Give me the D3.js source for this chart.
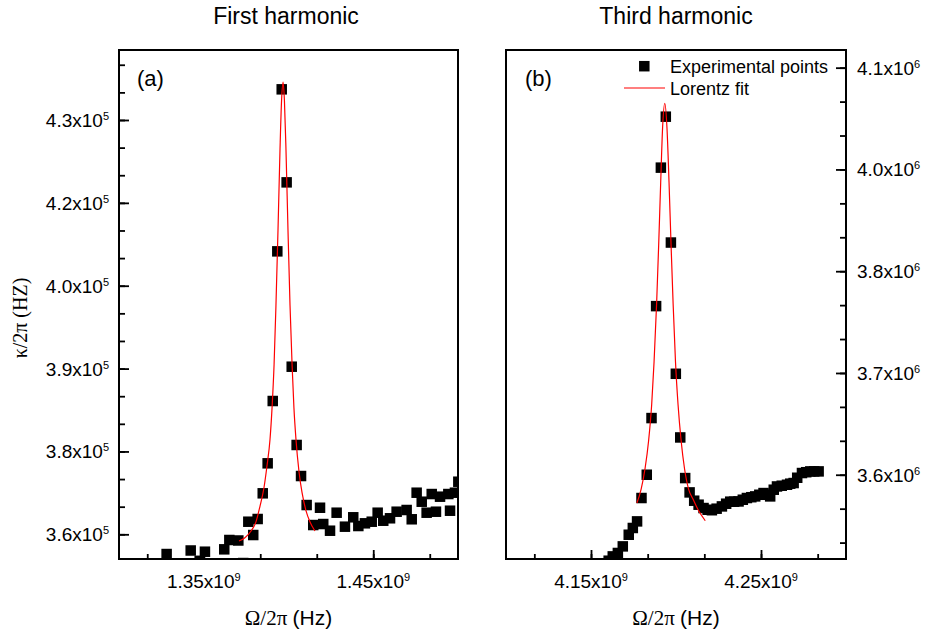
<!DOCTYPE html>
<html>
<head>
<meta charset="utf-8">
<script src="https://cdnjs.cloudflare.com/ajax/libs/d3/7.8.5/d3.min.js"></script>
<style>
  body { margin: 0; background: #fff; }
  text { font-family: "Liberation Sans", Arial, sans-serif; fill: #000; }
  .serif { font-family: "Liberation Serif", "Times New Roman", serif; }
</style>
</head>
<body>
<svg id="chart" width="925" height="633"></svg>
<script>
// (a) first harmonic: frequency in GHz, kappa/2pi in units of 1e5 Hz
var freqA = [1.3281, 1.3423, 1.3476, 1.3507, 1.3565, 1.3621, 1.3651, 1.3704, 1.3733, 1.3763,
             1.3792, 1.3818, 1.3848, 1.3877, 1.3907, 1.3934, 1.3960, 1.3989, 1.4019, 1.4048,
             1.4074, 1.4107, 1.4146, 1.4186, 1.4205, 1.4245, 1.4284, 1.4333, 1.4382, 1.4412,
             1.4451, 1.4491, 1.4526, 1.4559, 1.4599, 1.4638, 1.4697, 1.4727, 1.4756, 1.4786,
             1.4815, 1.4845, 1.4870, 1.4894, 1.4943, 1.4953, 1.4982, 1.5002];
var kappaA = [3.5643, 3.5707, 3.5520, 3.5685, 3.5470, 3.5728, 3.5897, 3.5888, 3.5480, 3.6228,
              3.5987, 3.6277, 3.6742, 3.7285, 3.8413, 4.1122, 4.4055, 4.2371, 3.9034, 3.7617,
              3.7055, 3.6530, 3.6168, 3.6481, 3.6186, 3.6065, 3.6391, 3.6138, 3.6308, 3.6150,
              3.6199, 3.6228, 3.6391, 3.6246, 3.6290, 3.6409, 3.6440, 3.6272, 3.6753, 3.6590,
              3.6391, 3.6729, 3.6409, 3.6681, 3.6729, 3.6427, 3.6753, 3.6952];
// Lorentz fit in (a)
var fitFreqA = [1.3708, 1.3743, 1.3779, 1.3808, 1.3832, 1.3855, 1.3873, 1.3891, 1.3903, 1.3915,
                1.3926, 1.3938, 1.3950, 1.3959, 1.3968, 1.3976, 1.3985, 1.3997, 1.4009, 1.4021,
                1.4032, 1.4044, 1.4062, 1.4080, 1.4103, 1.4127, 1.4156];
var fitKappaA = [3.5879, 3.5938, 3.6060, 3.6224, 3.6512, 3.6838, 3.7236, 3.7721, 3.8293, 3.9079,
                 4.0143, 4.1502, 4.2979, 4.3848, 4.4187, 4.3848, 4.2979, 4.1502, 4.0143, 3.9079,
                 3.8293, 3.7721, 3.7133, 3.6753, 3.6429, 3.6224, 3.6060];

// (b) third harmonic: frequency in GHz, kappa/2pi in units of 1e6 Hz
var freqB = [4.1604, 4.1628, 4.1658, 4.1687, 4.1722, 4.1746, 4.1771, 4.1797, 4.1828, 4.1856,
             4.1883, 4.1911, 4.1940, 4.1970, 4.1999, 4.2025, 4.2054, 4.2080, 4.2107, 4.2133,
             4.2162, 4.2186, 4.2211, 4.2239, 4.2270, 4.2295, 4.2319, 4.2342, 4.2368, 4.2393,
             4.2417, 4.2443, 4.2466, 4.2490, 4.2515, 4.2537, 4.2554, 4.2575, 4.2594, 4.2622,
             4.2653, 4.2672, 4.2692, 4.2713, 4.2741, 4.2766, 4.2790, 4.2813, 4.2839];
var kappaB = [3.4944, 3.4997, 3.5039, 3.5120, 3.5263, 3.5346, 3.5427, 3.5714, 3.6000, 3.6696,
              3.8071, 3.9772, 4.0398, 3.8852, 3.7240, 3.6458, 3.5959, 3.5783, 3.5681, 3.5632,
              3.5591, 3.5570, 3.5564, 3.5583, 3.5611, 3.5644, 3.5669, 3.5669, 3.5672, 3.5693,
              3.5714, 3.5724, 3.5734, 3.5754, 3.5775, 3.5754, 3.5734, 3.5816, 3.5856, 3.5865,
              3.5877, 3.5890, 3.5898, 3.5963, 3.6021, 3.6031, 3.6041, 3.6041, 3.6041];
var fitFreqB = [4.1770, 4.1795, 4.1818, 4.1839, 4.1857, 4.1871, 4.1886, 4.1898, 4.1910, 4.1921,
                4.1934, 4.1947, 4.1959, 4.1971, 4.1983, 4.1997, 4.2012, 4.2030, 4.2050, 4.2074,
                4.2099, 4.2130, 4.2172];
var fitKappaB = [3.5653, 3.5824, 3.6077, 3.6420, 3.6862, 3.7388, 3.8104, 3.8817, 3.9593, 4.0257,
                 4.0563, 4.0257, 3.9593, 3.8817, 3.8104, 3.7388, 3.6862, 3.6420, 3.6077, 3.5824,
                 3.5705, 3.5570, 3.5435];

// tick values and their printed labels
var xTicksA = [1.35, 1.45], xLabelsA = ["1.35", "1.45"];
var yTicksA = [3.60, 3.75, 3.90, 4.05, 4.20, 4.35], yLabelsA = ["3.6", "3.8", "3.9", "4.0", "4.2", "4.3"];
var xTicksB = [4.15, 4.25], xLabelsB = ["4.15", "4.25"];
var yTicksB = [3.6, 3.725, 3.85, 3.975, 4.1], yLabelsB = ["3.6", "3.7", "3.8", "4.0", "4.1"];

var svg = d3.select("#chart");

// two minor ticks between majors, kept inside the domain
function minorTicks(majors, domain) {
  var step = majors[1] - majors[0], out = [];
  var start = majors[0] - 3 * step;
  for (var v = start; v <= domain[1] + 1e-9; v += step / 3) {
    if (v >= domain[0] && v <= domain[1]) out.push(v);
  }
  return out;
}

// label like 4.3x10^5 with a raised exponent
function sciLabel(sel, mant, exp) {
  sel.append("tspan").text(mant + "x10");
  sel.append("tspan").attr("font-size", 11).attr("dy", -7).text(exp);
}

function drawPanel(p) {
  var x = d3.scaleLinear().domain(p.xDomain).range([p.left, p.right]);
  var y = d3.scaleLinear().domain(p.yDomain).range([p.bottom, p.top]);
  var g = svg.append("g");

  g.append("clipPath").attr("id", "clip-" + p.id)
    .append("rect")
    .attr("x", p.left).attr("y", p.top)
    .attr("width", p.right - p.left).attr("height", p.bottom - p.top);

  // bottom ticks, pointing inwards
  var bx = g.append("g").attr("transform", "translate(0," + p.bottom + ")");
  bx.append("g").call(d3.axisBottom(x).tickValues(minorTicks(p.xTicks, p.xDomain)).tickSize(-5).tickFormat(""));
  bx.append("g").call(d3.axisBottom(x).tickValues(p.xTicks).tickSize(-9).tickFormat(""));

  // vertical ticks on the labelled side
  var onLeft = p.ySide == "left";
  var axisY = onLeft ? d3.axisLeft : d3.axisRight;
  var ax = g.append("g").attr("transform", "translate(" + (onLeft ? p.left : p.right) + ",0)");
  ax.append("g").call(axisY(y).tickValues(minorTicks(p.yTicks, p.yDomain)).tickSize(-6).tickFormat(""));
  ax.append("g").call(axisY(y).tickValues(p.yTicks).tickSize(-10).tickFormat(""));

  g.selectAll(".domain").remove();
  g.selectAll(".tick line").attr("stroke", "#000").attr("stroke-width", 1.8);

  // tick labels
  p.xTicks.forEach(function(v, i) {
    g.append("text")
      .attr("x", x(v)).attr("y", p.bottom + 29)
      .attr("text-anchor", "middle").attr("font-size", 19)
      .call(sciLabel, p.xLabels[i], p.xExp);
  });
  p.yTicks.forEach(function(v, i) {
    g.append("text")
      .attr("x", onLeft ? p.left - 10 : p.right + 11)
      .attr("y", y(v) + 7)
      .attr("text-anchor", onLeft ? "end" : "start").attr("font-size", 19)
      .call(sciLabel, p.yLabels[i], p.yExp);
  });

  var plot = g.append("g").attr("clip-path", "url(#clip-" + p.id + ")");

  // experimental points
  var size = 10.5;
  plot.selectAll("rect.pt")
    .data(d3.range(p.freq.length))
    .enter()
  .append("rect")
    .attr("class", "pt")
    .attr("x", function(i) { return x(p.freq[i]) - size / 2; })
    .attr("y", function(i) { return y(p.kappa[i]) - size / 2; })
    .attr("width", size).attr("height", size)
    .attr("fill", "#000");

  // Lorentz fit
  var line = d3.line()
    .x(function(i) { return x(p.fitFreq[i]); })
    .y(function(i) { return y(p.fitKappa[i]); })
    .curve(d3.curveMonotoneX);
  plot.append("path")
    .attr("d", line(d3.range(p.fitFreq.length)))
    .attr("fill", "none").attr("stroke", "#ff0000").attr("stroke-width", 1.2);

  // frame
  g.append("rect")
    .attr("x", p.left).attr("y", p.top)
    .attr("width", p.right - p.left).attr("height", p.bottom - p.top)
    .attr("fill", "none").attr("stroke", "#000").attr("stroke-width", 2);

  // title, panel letter, x label
  g.append("text")
    .attr("x", p.titleX).attr("y", 24)
    .attr("text-anchor", "middle").attr("font-size", 23)
    .text(p.title);
  g.append("text")
    .attr("x", p.left + p.letterDx).attr("y", 86)
    .attr("font-size", 22)
    .text(p.letter);
  var xl = g.append("text")
    .attr("x", (p.left + p.right) / 2).attr("y", 625)
    .attr("text-anchor", "middle").attr("font-size", 21);
  xl.append("tspan").attr("class", "serif").text("\u03A9/2\u03C0 ");
  xl.append("tspan").text("(Hz)");

  return {x: x, y: y};
}

drawPanel({
  id: "a", left: 119, right: 458, top: 50, bottom: 559,
  xDomain: [1.30, 1.50], yDomain: [3.5553, 4.4767],
  xTicks: xTicksA, xLabels: xLabelsA, xExp: "9",
  yTicks: yTicksA, yLabels: yLabelsA, yExp: "5", ySide: "left",
  freq: freqA, kappa: kappaA, fitFreq: fitFreqA, fitKappa: fitKappaA,
  title: "First harmonic", titleX: 286, letter: "(a)", letterDx: 18
});

drawPanel({
  id: "b", left: 506, right: 846, top: 50, bottom: 559,
  xDomain: [4.10, 4.30], yDomain: [3.4965, 4.1217],
  xTicks: xTicksB, xLabels: xLabelsB, xExp: "9",
  yTicks: yTicksB, yLabels: yLabelsB, yExp: "6", ySide: "right",
  freq: freqB, kappa: kappaB, fitFreq: fitFreqB, fitKappa: fitKappaB,
  title: "Third harmonic", titleX: 676, letter: "(b)", letterDx: 19
});

// y axis title on the left
svg.append("text")
  .attr("class", "serif")
  .attr("transform", "translate(27,318) rotate(-90)")
  .attr("text-anchor", "middle").attr("font-size", 20)
  .text("\u03BA/2\u03C0 (HZ)");

// legend in panel (b)
var legend = svg.append("g");
legend.append("rect")
  .attr("x", 644.3 - 5.25).attr("y", 66.2 - 5.25)
  .attr("width", 10.5).attr("height", 10.5).attr("fill", "#000");
legend.append("text").attr("x", 670).attr("y", 72.5).attr("font-size", 18).text("Experimental points");
legend.append("line")
  .attr("x1", 624).attr("x2", 665).attr("y1", 88).attr("y2", 88)
  .attr("stroke", "#ff0000").attr("stroke-width", 1.2);
legend.append("text").attr("x", 670).attr("y", 94.5).attr("font-size", 18).text("Lorentz fit");
</script>
</body>
</html>
